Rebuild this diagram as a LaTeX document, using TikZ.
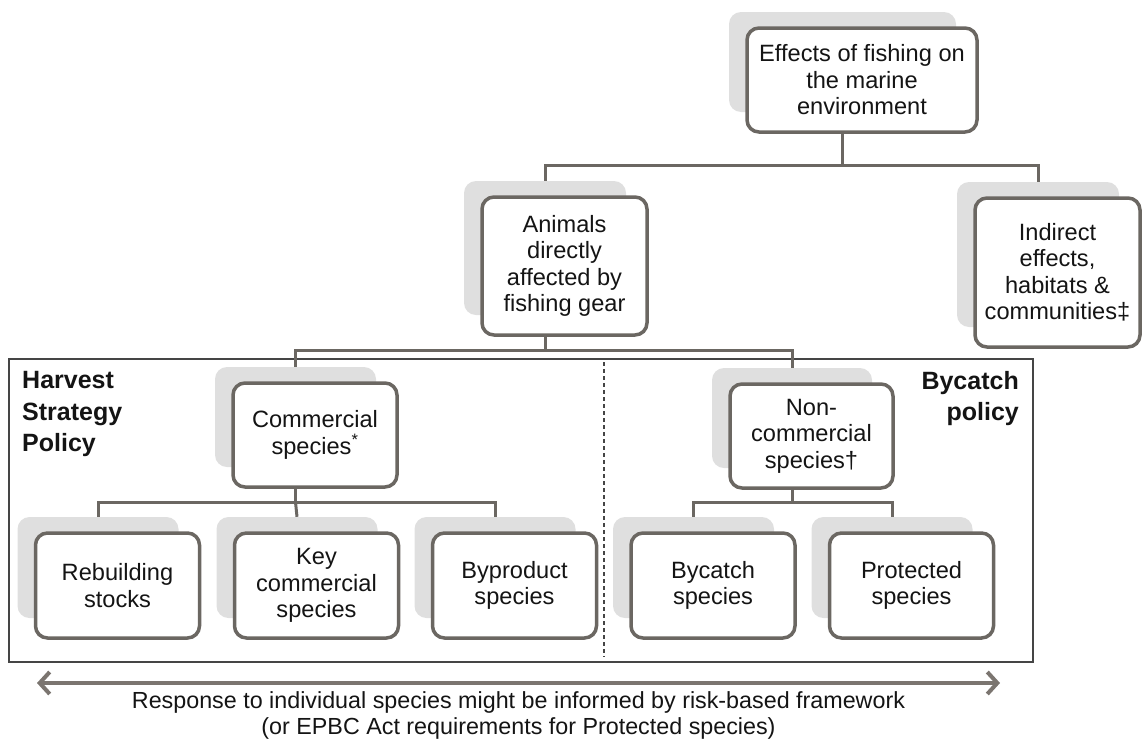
\documentclass[tikz,border=0pt]{standalone}
\usepackage{fontspec}
\setmainfont{Liberation Sans}
\usetikzlibrary{arrows.meta}
\definecolor{boxc}{HTML}{6B6762}
\definecolor{shadc}{HTML}{DFDFDF}
\definecolor{framec}{HTML}{454545}
\definecolor{arrc}{HTML}{7B7570}
\definecolor{txtc}{HTML}{141414}
\tikzset{
  orgnode/.style={draw=boxc, line width=3.5pt, rounded corners=12pt, fill=white,
    align=center, inner sep=0pt, text=txtc, font=\fontsize{23.6}{26.5}\selectfont},
  shadowbox/.style={fill=shadc, rounded corners=12pt, inner sep=0pt},
  conn/.style={draw=boxc, line width=3pt},
  policy/.style={inner sep=0pt, text=txtc, font=\fontsize{25}{31.5}\selectfont\bfseries},
  note/.style={inner sep=0pt, text=txtc, font=\fontsize{23.3}{26}\selectfont},
}
\newcommand{\orgbox}[6]{%
  \node[shadowbox, minimum width=#4-3, minimum height=#5-4] (#1-s) at (#2-19.5, #3-18) {};
  \node[orgnode, minimum width=#4, minimum height=#5] (#1) at (#2,#3) {#6};
}
\begin{document}
\begin{tikzpicture}[x=1pt,y=-1pt]
\useasboundingbox (0,0) rectangle (1142,742);
% frame and divider
\draw[draw=framec, line width=1.8pt] (9,359) rectangle (1033,662);
\draw[draw=framec, line width=1.2pt, dash pattern=on 4pt off 3pt] (604,362) -- (604,657);
% boxes
\orgbox{top}{862}{80}{230}{104}{Effects of fishing on\\the marine\\environment}
\orgbox{ani}{564.5}{266}{165}{138}{Animals\\directly\\affected by\\fishing gear}
\orgbox{ind}{1057.5}{272.5}{165}{149}{Indirect\\effects,\\habitats \&\\communities‡}
\orgbox{com}{315}{435}{164}{104}{Commercial\\species\textsuperscript{*}}
\orgbox{non}{811.5}{436}{163}{104}{Non-\\commercial\\species†}
\orgbox{reb}{117.5}{585.5}{164}{105}{Rebuilding\\stocks}
\orgbox{key}{316.5}{585.5}{164}{105}{Key\\commercial\\species}
\orgbox{byp}{514.5}{585.5}{164}{105}{Byproduct\\species}
\orgbox{byc}{713}{585.5}{164}{105}{Bycatch\\species}
\orgbox{pro}{911.5}{585.5}{164}{105}{Protected\\species}
% bus levels
\coordinate (bus0) at (0,165);
\coordinate (bus1) at (0,350);
\coordinate (bus2) at (0,502);
% connectors
\draw[conn] (top-s.center |- top.south) -- (top-s.center |- bus0) -| (ani-s.north);
\draw[conn] (top-s.center |- bus0) -| (ind-s.north);
\draw[conn] (ani-s.center |- ani.south) -- (ani-s.center |- bus1) -| (com-s.north);
\draw[conn] (ani-s.center |- bus1) -| (non-s.north);
\draw[conn] (com-s.center |- com.south) -- (com-s.center |- bus2) -| (reb-s.north);
\draw[conn] (com-s.center |- bus2) -- (key-s.north);
\draw[conn] (com-s.center |- bus2) -| (byp-s.north);
\draw[conn] (non-s.center |- non.south) -- (non-s.center |- bus2) -| (byc-s.north);
\draw[conn] (non-s.center |- bus2) -| (pro-s.north);
% policy labels
\node[policy, anchor=west, align=left] (hsp) at (22,414) {Harvest\\Strategy\\Policy};
\node[policy, anchor=east, align=right] (bcp) at (1019,398.5) {Bycatch\\policy};
% bottom arrow and note
\coordinate (al) at (37,683);
\coordinate (ar) at (1000,683);
\draw[draw=arrc, line width=4pt, {Straight Barb[length=10pt,width=22pt]}-{Straight Barb[length=10pt,width=22pt]}] (al) -- (ar);
\node[note] (n1) at (518.5,702) {Response to individual species might be informed by risk-based framework};
\node[note] (n2) at (518.5,728) {(or EPBC Act requirements for Protected species)};
\end{tikzpicture}
\end{document}
